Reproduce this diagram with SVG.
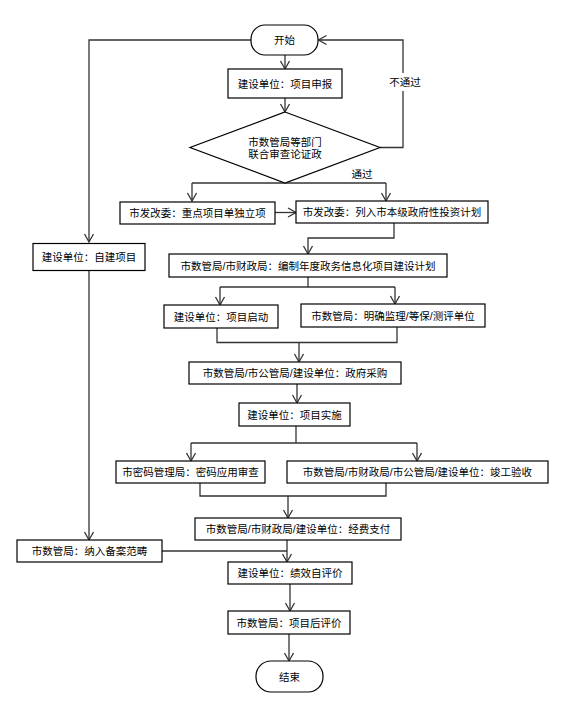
<svg xmlns="http://www.w3.org/2000/svg" width="563" height="716" viewBox="0 0 563 716">
<style>
.box{fill:#fff;stroke:#000;stroke-width:1.2}
.t{font-family:"Liberation Sans","Noto Sans CJK SC",sans-serif;font-size:10.5px;fill:#000;text-anchor:middle;dominant-baseline:central}
.c{fill:none;stroke:#333;stroke-width:1.3}
</style>
<defs>
<marker id="arr" viewBox="-10 -6 12 12" markerWidth="12" markerHeight="12" markerUnits="userSpaceOnUse" refX="0" refY="0" orient="auto">
<path d="M-8,-4.5 L0,0 L-8,4.5" fill="none" stroke="#333" stroke-width="1.3"/>
</marker>
</defs>
<rect width="563" height="716" fill="#fff"/>
<g id="connectors">
<path class="c" d="M251,40 H89 V242" marker-end="url(#arr)"/>
<path class="c" d="M285,55 V69" marker-end="url(#arr)"/>
<path class="c" d="M285,98 V112" marker-end="url(#arr)"/>
<path class="c" d="M380,147.5 H403 V40 H318.5" marker-end="url(#arr)"/>
<path class="c" d="M192,183 H386"/>
<path class="c" d="M192,183 V201" marker-end="url(#arr)"/>
<path class="c" d="M386,183 V201" marker-end="url(#arr)"/>
<path class="c" d="M275,212.5 H296" marker-end="url(#arr)"/>
<path class="c" d="M394,223 V238 H308 V254" marker-end="url(#arr)"/>
<path class="c" d="M308,277 V287"/>
<path class="c" d="M220,287 H395"/>
<path class="c" d="M220,287 V305" marker-end="url(#arr)"/>
<path class="c" d="M395,287 V304" marker-end="url(#arr)"/>
<path class="c" d="M217,328 V342.5 H397 V327"/>
<path class="c" d="M299,342.5 V362" marker-end="url(#arr)"/>
<path class="c" d="M297,384 V403" marker-end="url(#arr)"/>
<path class="c" d="M296,426 V443"/>
<path class="c" d="M191,443 H417"/>
<path class="c" d="M191,443 V461" marker-end="url(#arr)"/>
<path class="c" d="M417,443 V461" marker-end="url(#arr)"/>
<path class="c" d="M200,483 V496 H386 V483"/>
<path class="c" d="M288,496 V518" marker-end="url(#arr)"/>
<path class="c" d="M89,271 V540" marker-end="url(#arr)"/>
<path class="c" d="M162,551 H287"/>
<path class="c" d="M287,540 V562" marker-end="url(#arr)"/>
<path class="c" d="M290,584 V611" marker-end="url(#arr)"/>
<path class="c" d="M289,634 V661" marker-end="url(#arr)"/>
<rect x="387" y="73" width="35" height="18" fill="#fff"/>
<text class="t" x="405" y="82">不通过</text>
<text class="t" x="362" y="174">通过</text>
</g>
<g id="start"><rect class="box" x="251" y="25" width="67" height="30" rx="14"/><text class="t" x="284.5" y="40">开始</text></g>
<g id="n_apply"><rect class="box" x="228" y="69" width="114" height="29"/><text class="t" x="285" y="83.5">建设单位：项目申报</text></g>
<g id="n_review"><polygon class="box" points="285,112 380,147.5 285,183 190,147.5"/><text class="t" x="285" y="142">市数管局等部门</text><text class="t" x="285" y="154">联合审查论证政</text></g>
<g id="n_key"><rect class="box" x="120" y="202" width="155" height="22"/><text class="t" x="197.5" y="213">市发改委：重点项目单独立项</text></g>
<g id="n_plan"><rect class="box" x="296" y="201" width="192" height="22"/><text class="t" x="392" y="212">市发改委：列入市本级政府性投资计划</text></g>
<g id="n_self"><rect class="box" x="33" y="243.5" width="112" height="27"/><text class="t" x="89" y="257">建设单位：自建项目</text></g>
<g id="n_annual"><rect class="box" x="169" y="254" width="278" height="23"/><text class="t" x="308" y="265.5">市数管局/市财政局：编制年度政务信息化项目建设计划</text></g>
<g id="n_start"><rect class="box" x="164" y="305" width="114" height="23"/><text class="t" x="221" y="316.5">建设单位：项目启动</text></g>
<g id="n_supervise"><rect class="box" x="301" y="304" width="184" height="23"/><text class="t" x="393" y="315.5">市数管局：明确监理/等保/测评单位</text></g>
<g id="n_purchase"><rect class="box" x="189" y="362" width="212" height="22"/><text class="t" x="295" y="373">市数管局/市公管局/建设单位：政府采购</text></g>
<g id="n_impl"><rect class="box" x="239" y="403" width="111" height="23"/><text class="t" x="294.5" y="414.5">建设单位：项目实施</text></g>
<g id="n_crypto"><rect class="box" x="116" y="461" width="149" height="22"/><text class="t" x="190.5" y="472">市密码管理局：密码应用审查</text></g>
<g id="n_accept"><rect class="box" x="287" y="461" width="261" height="22"/><text class="t" x="417.5" y="472">市数管局/市财政局/市公管局/建设单位：竣工验收</text></g>
<g id="n_pay"><rect class="box" x="195" y="518" width="206" height="22"/><text class="t" x="298" y="529">市数管局/市财政局/建设单位：经费支付</text></g>
<g id="n_record"><rect class="box" x="17" y="540" width="145" height="22"/><text class="t" x="89.5" y="551">市数管局：纳入备案范畴</text></g>
<g id="n_selfeval"><rect class="box" x="228" y="562" width="124" height="22"/><text class="t" x="290" y="573">建设单位：绩效自评价</text></g>
<g id="n_posteval"><rect class="box" x="228" y="611" width="122" height="23"/><text class="t" x="289" y="622.5">市数管局：项目后评价</text></g>
<g id="end"><rect class="box" x="256" y="661" width="67" height="31" rx="15"/><text class="t" x="289.5" y="676.5">结束</text></g>
</svg>
